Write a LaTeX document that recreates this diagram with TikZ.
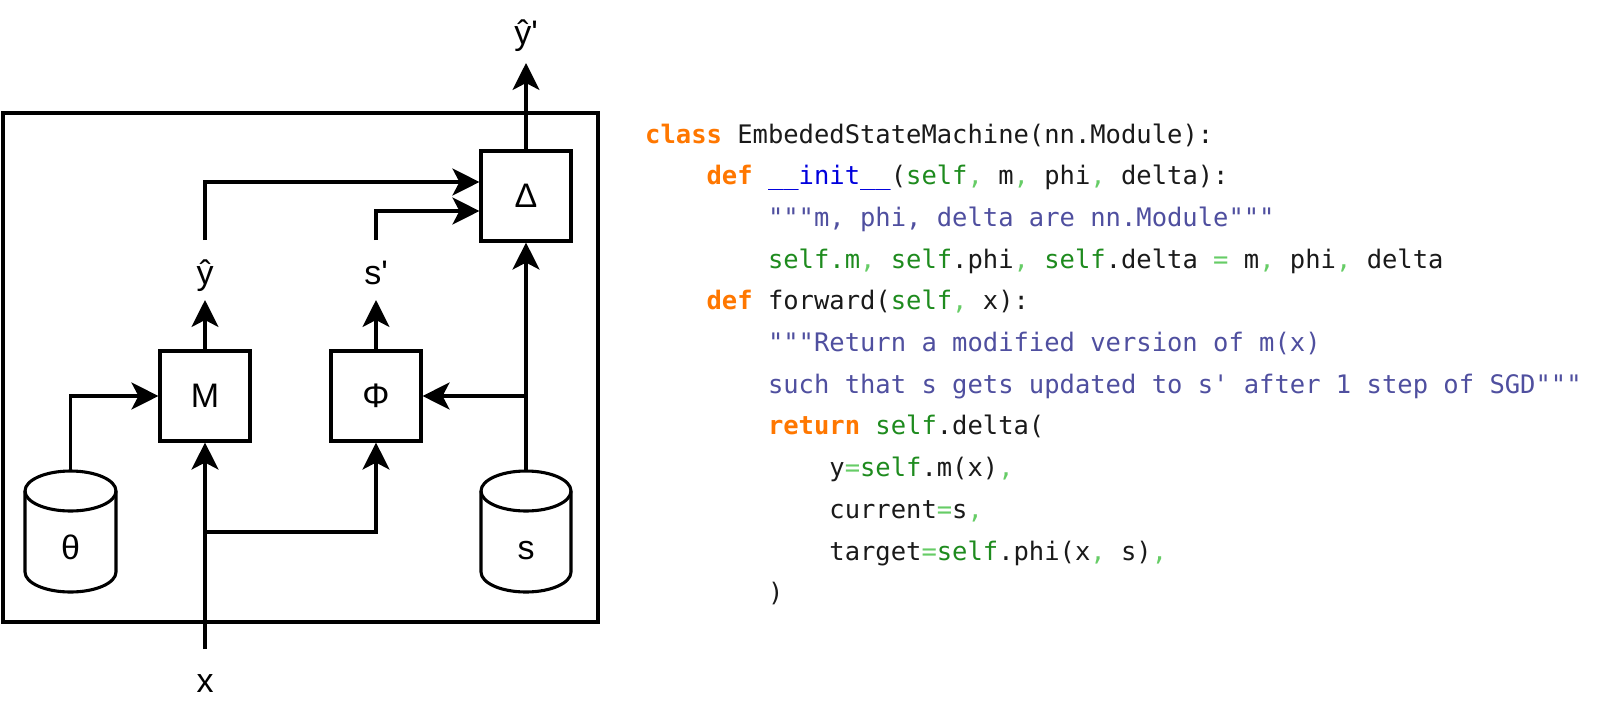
\documentclass[tikz,border=0pt]{standalone}
\usepackage{fontspec}
\usetikzlibrary{arrows.meta}
\newfontfamily\diagfont{Liberation Sans}[Ligatures=TeXOff]
\newfontfamily\codefont{DejaVu Sans Mono}[Ligatures=TeXOff]
\definecolor{kwc}{HTML}{FF7700}
\definecolor{fnc}{HTML}{0000DD}
\definecolor{slfc}{HTML}{1E8B1E}
\definecolor{cmc}{HTML}{66CC66}
\definecolor{docc}{HTML}{4F4F9F}
\definecolor{plain}{HTML}{1A1A1A}
\newcommand\kw[1]{\textcolor{kwc}{\bfseries #1}}
\newcommand\fnn[1]{\textcolor{fnc}{#1}}
\newcommand\slf[1]{\textcolor{slfc}{#1}}
\newcommand\cmm[1]{\textcolor{cmc}{#1}}
\newcommand\docs[1]{\textcolor{docc}{#1}}
\newcommand\cl[3]{\node[codeln] (c#1) at ({645+15.35*#2},{-143-41.7*#1}) {#3};}
\begin{document}
\begin{tikzpicture}[x=1pt,y=1pt,line join=miter]
\useasboundingbox (0,0) rectangle (1600,-710);
\tikzset{
 ln/.style={line width=3.1pt},
 arr/.style={ln,-{Stealth[length=27pt,width=27pt,inset=7pt]}},
 blk/.style={draw,line width=3.1pt,minimum width=90pt,minimum height=90pt,inner sep=0pt,fill=white,font=\diagfont\fontsize{34}{40}\selectfont},
 lbl/.style={font=\diagfont\fontsize{34}{40}\selectfont,inner sep=0pt,anchor=base},
 codeln/.style={anchor=base west,inner sep=0pt,text=plain,font=\codefont\fontsize{25.5}{30}\selectfont},
 cyl/.style={draw,line width=3.1pt,fill=white}
}
% outer box
\node[draw,line width=4.5pt,minimum width=595pt,minimum height=509pt,inner sep=0pt] (outer) at (300.5,-367.5) {};
% blocks
\node[blk] (D) at (526,-196) {Δ};
\node[blk] (M) at (205,-396) {M};
\node[blk] (P) at (376,-396) {Φ};
% labels
\node[lbl] (yo) at (526,-44) {ŷ'};
\node[lbl] (yh) at (205,-284) {ŷ};
\node[lbl] (sp) at (376,-284) {s'};
\node[lbl] (xin) at (205,-692) {x};
% cylinders
\draw[cyl] (25,-491) -- (25,-572) arc[start angle=180,end angle=360,x radius=45.5pt,y radius=20pt] -- (116,-491) arc[start angle=0,end angle=180,x radius=45.5pt,y radius=20pt] -- cycle;
\draw[ln] (25,-491) arc[start angle=180,end angle=360,x radius=45.5pt,y radius=20pt];
\node[lbl] (th) at (70.5,-559) {θ};
\draw[cyl] (481,-491) -- (481,-572) arc[start angle=180,end angle=360,x radius=45pt,y radius=20pt] -- (571,-491) arc[start angle=0,end angle=180,x radius=45pt,y radius=20pt] -- cycle;
\draw[ln] (481,-491) arc[start angle=180,end angle=360,x radius=45pt,y radius=20pt];
\node[lbl] (sl) at (526,-559) {s};
% coordinates
\coordinate (yoend) at (526,-63);
\coordinate (ytipM) at (205,-300);
\coordinate (ytop) at (205,-240);
\coordinate (stipP) at (376,-300);
\coordinate (stop) at (376,-240);
\coordinate (thtop) at (70.5,-471);
\coordinate (scyltop) at (526,-471);
\coordinate (sbr) at (526,-396);
\coordinate (xbot) at (205,-649);
\coordinate (xbr) at (205,-532);
% connectors
\draw[arr] (D.north) -- (yoend);
\draw[arr] (M.north) -- (ytipM);
\draw[arr] (ytop) |- ([yshift=14pt]D.west);
\draw[arr] (P.north) -- (stipP);
\draw[arr] (stop) |- ([yshift=-15pt]D.west);
\draw[arr] (thtop) |- (M.west);
\draw[arr] (scyltop) -- (D.south);
\draw[arr] (sbr) -- (P.east);
\draw[arr] (xbot) -- (M.south);
\draw[arr] (xbr) -| (P.south);
% code
\cl{0}{0}{\kw{class} EmbededStateMachine(nn.Module):}
\cl{1}{4}{\kw{def} \fnn{\_\_init\_\_}(\slf{self}\cmm{,} m\cmm{,} phi\cmm{,} delta):}
\cl{2}{8}{\docs{"""m, phi, delta are nn.Module"""}}
\cl{3}{8}{\slf{self.m}\cmm{,} \slf{self}.phi\cmm{,} \slf{self}.delta \cmm{=} m\cmm{,} phi\cmm{,} delta}
\cl{4}{4}{\kw{def} forward(\slf{self}\cmm{,} x):}
\cl{5}{8}{\docs{"""Return a modified version of m(x)}}
\cl{6}{8}{\docs{such that s gets updated to s' after 1 step of SGD"""}}
\cl{7}{8}{\kw{return} \slf{self}.delta(}
\cl{8}{12}{y\cmm{=}\slf{self}.m(x)\cmm{,}}
\cl{9}{12}{current\cmm{=}s\cmm{,}}
\cl{10}{12}{target\cmm{=}\slf{self}.phi(x\cmm{,} s)\cmm{,}}
\cl{11}{8}{)}
\end{tikzpicture}
\end{document}
